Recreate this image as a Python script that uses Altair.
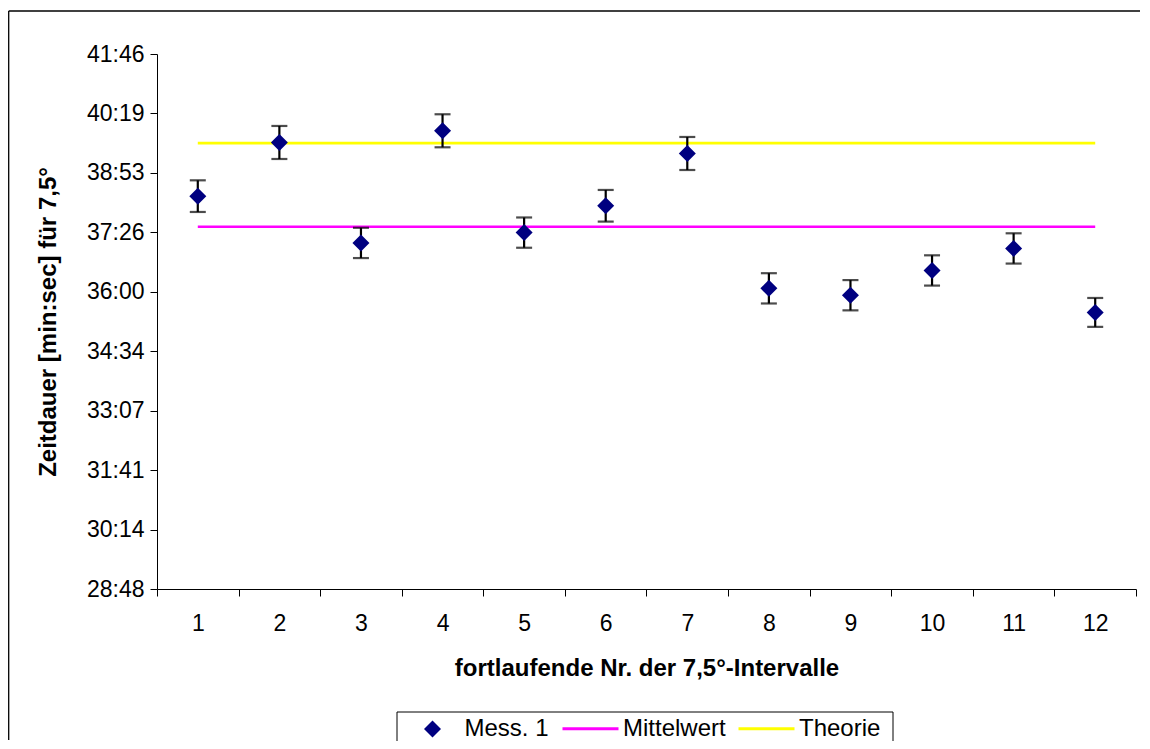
import altair as alt
import pandas as pd

# ---- data (seconds) ----
nr = list(range(1, 13))
mess1 = [2299, 2377, 2231, 2394, 2246, 2285, 2361, 2165, 2155, 2191, 2223, 2130]
fehler = [23, 24, 22, 24, 22, 23, 24, 22, 22, 22, 22, 21]
mittelwert = 2254.6
theorie = 2376
y_ticks = [1728, 1814.4, 1900.8, 1987.2, 2073.6, 2160, 2246.4, 2332.8, 2419.2, 2505.6]
line_series = ["Mittelwert", "Theorie"]
line_colors = ["#FF00FF", "#FFFF00"]
point_series = ["Mess. 1"]
point_color = "#000080"

FONT = "Liberation Sans"

pts = pd.DataFrame({
    "nr": nr,
    "t": mess1,
    "lo": [m - f for m, f in zip(mess1, fehler)],
    "hi": [m + f for m, f in zip(mess1, fehler)],
    "serie": ["Mess. 1"] * len(nr),
})
lines = pd.DataFrame({
    "nr": nr + nr,
    "t": [mittelwert] * len(nr) + [theorie] * len(nr),
    "serie": ["Mittelwert"] * len(nr) + ["Theorie"] * len(nr),
})

x_enc = alt.X(
    "nr:O",
    scale=alt.Scale(type="band", paddingInner=0, paddingOuter=0),
    axis=alt.Axis(
        title="fortlaufende Nr. der 7,5°-Intervalle",
        tickBand="extent", labelAngle=0, tickSize=7, labelPadding=16,
        labelFontSize=23, labelFont=FONT, labelColor="black",
        titleFontSize=24, titleFont=FONT, titleFontWeight="bold", titleColor="black",
        titleX=489.5, titleY=86, titleBaseline="alphabetic", titleAlign="center",
        domainColor="black", tickColor="black", grid=False,
    ),
)

label_expr = ("floor(round(datum.value)/60) + ':' + "
              "(round(datum.value)%60 < 10 ? '0' : '') + (round(datum.value)%60)")

y_scale = alt.Scale(domain=[y_ticks[0], y_ticks[-1]], nice=False, zero=False)
y_axis = alt.Axis(
    title="Zeitdauer [min:sec] für 7,5°",
    values=y_ticks, labelExpr=label_expr, tickSize=7, labelPadding=6,
    labelFontSize=23, labelFont=FONT, labelColor="black",
    titleFontSize=24, titleFont=FONT, titleFontWeight="bold", titleColor="black",
    titleAngle=270, titleX=-102, titleY=267.5, titleBaseline="alphabetic",
    titleAlign="center",
    domainColor="black", tickColor="black", grid=False,
)


def y_of(field):
    return alt.Y(f"{field}:Q", scale=y_scale, axis=y_axis)


legend_lines = alt.Legend(
    orient="none", legendX=404, legendY=645, direction="horizontal", title=None,
    padding=0, labelFontSize=24, labelFont=FONT, labelColor="black", labelOffset=3,
    symbolSize=3136, symbolType="stroke", symbolStrokeWidth=3, columnPadding=6,
)
legend_pts = alt.Legend(
    orient="none", legendX=263.5, legendY=663, direction="horizontal", title=None,
    padding=0, labelFontSize=24, labelFont=FONT, labelColor="black", labelOffset=20,
    symbolSize=289, symbolType="diamond", symbolFillColor=point_color,
    symbolStrokeWidth=0,
)

one = pd.DataFrame({"a": [0]})
frame_top = alt.Chart(one).mark_rule(color="black", strokeWidth=1.3).encode(
    x=alt.value(-148.3), x2=alt.value(983), y=alt.value(-43)
)
frame_left = alt.Chart(one).mark_rule(color="black", strokeWidth=1.3).encode(
    x=alt.value(-148.3), y=alt.value(-43), y2=alt.value(686)
)
legend_box = alt.Chart(one).mark_rect(
    fill="white", stroke="black", strokeWidth=1
).encode(
    x=alt.value(240), x2=alt.value(736), y=alt.value(658), y2=alt.value(720)
)

line_layer = alt.Chart(lines).mark_line(strokeWidth=2.6).encode(
    x=x_enc, y=y_of("t"),
    color=alt.Color("serie:N", scale=alt.Scale(domain=line_series, range=line_colors),
                    legend=legend_lines),
)

stems = alt.Chart(pts).mark_rule(color="black", strokeWidth=2.2).encode(
    x=x_enc, y=y_of("lo"), y2="hi:Q"
)
caps_lo = alt.Chart(pts).mark_tick(color="black", thickness=2.2, size=16, orient="horizontal").encode(
    x=x_enc, y=y_of("lo")
)
caps_hi = alt.Chart(pts).mark_tick(color="black", thickness=2.2, size=16, orient="horizontal").encode(
    x=x_enc, y=y_of("hi")
)
points = alt.Chart(pts).mark_point(filled=True, size=289, opacity=1, color=point_color).encode(
    x=x_enc, y=y_of("t"),
    shape=alt.Shape("serie:N", scale=alt.Scale(domain=point_series, range=["diamond"]),
                    legend=legend_pts),
)

chart = alt.layer(frame_top, frame_left, legend_box, line_layer, stems, caps_lo, caps_hi,
                  points).properties(
    width=979, height=535,
    autosize=alt.AutoSizeParams(type="none"),
    padding={"left": 149, "top": 46, "right": 6, "bottom": 152},
).configure(font=FONT).configure_view(stroke=None)

chart.save("out.html", embed_options={"renderer": "svg", "actions": False})
